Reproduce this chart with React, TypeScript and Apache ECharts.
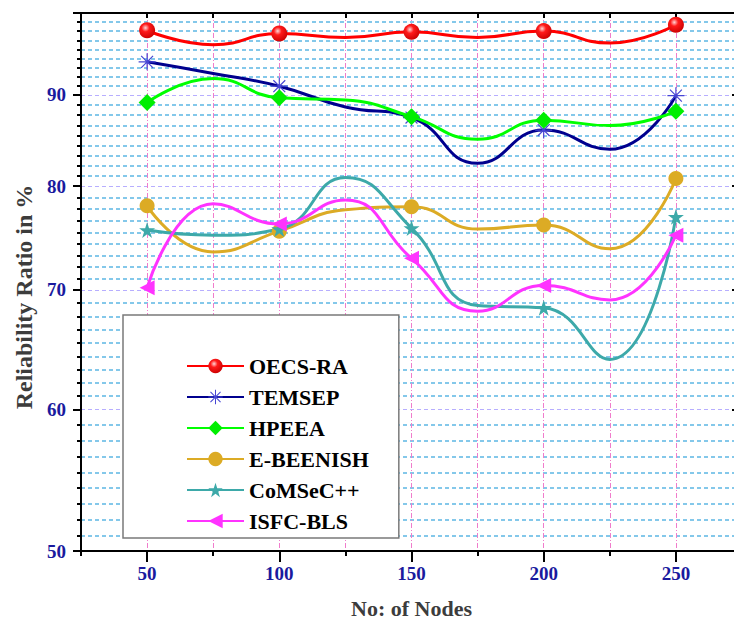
import React, { useEffect, useRef } from 'react';
import * as echarts from 'echarts';

// Number of nodes (markers drawn at every other point: 50, 100, 150, 200, 250)
const nodes = [50, 75, 100, 125, 150, 175, 200, 225, 250];

// Reliability ratio (%)
const oecsRA = [97.8, 96.0, 97.4, 96.9, 97.6, 96.9, 97.7, 96.2, 98.5];
const temsep = [93.9, 92.5, 91.0, 88.6, 87.4, 82.4, 86.0, 83.9, 89.9];
const hpeea = [89.1, 91.9, 89.65, 89.4, 87.5, 85.0, 87.1, 86.5, 88.1];
const eBeenish = [78.0, 73.5, 75.5, 77.6, 77.9, 75.7, 76.1, 73.8, 80.8];
const comsec = [75.6, 75.1, 75.7, 80.9, 75.8, 68.6, 68.4, 64.0, 76.9];
const isfcBls = [70.2, 78.2, 76.2, 78.6, 72.9, 68.1, 70.4, 69.1, 75.1];

const xLabelValues = [50, 100, 150, 200, 250];
const yLabelValues = [50, 60, 70, 80, 90];
const yMajorTicks = [50, 60, 70, 80, 90, 100];

const FONT = "'Liberation Serif', 'Times New Roman', serif";

function minorTicks(majors: number[], count: number): number[] {
  const out: number[] = [];
  for (let i = 0; i < majors.length - 1; i++) {
    const a = majors[i];
    const b = majors[i + 1];
    for (let k = 1; k <= count; k++) out.push(a * Math.pow(b / a, k / (count + 1)));
  }
  return out;
}

const ASTERISK =
  'path://M9.3 0 L10.7 0 L10.7 20 L9.3 20 Z M0 9.3 L20 9.3 L20 10.7 L0 10.7 Z M2.5 3.5 L3.5 2.5 L17.5 16.5 L16.5 17.5 Z M16.5 2.5 L17.5 3.5 L3.5 17.5 L2.5 16.5 Z';
const STAR =
  'path://M12 0 L14.9 8.6 L24 8.6 L16.6 13.9 L19.4 22.6 L12 17.3 L4.6 22.6 L7.4 13.9 L0 8.6 L9.1 8.6 Z';

function makeSeries(
  name: string,
  values: number[],
  lineColor: string,
  markColor: any,
  symbol: string,
  size: number,
  rotate = 0
) {
  return {
    type: 'line',
    name,
    xAxisIndex: 0,
    yAxisIndex: 0,
    data: nodes.map((x, i) => [x, values[i]]),
    smooth: 0.5,
    showSymbol: true,
    showAllSymbol: true,
    symbol,
    symbolRotate: rotate,
    symbolSize: (_v: any, p: any) => (p.dataIndex % 2 === 0 ? size : 0),
    lineStyle: { color: lineColor, width: 3 },
    itemStyle: { color: markColor },
    emphasis: { disabled: true },
    z: 3,
  };
}

export default function App() {
  const ref = useRef<HTMLDivElement>(null);

  useEffect(() => {
    if (!ref.current) return;
    const chart = echarts.init(ref.current, undefined, { renderer: 'svg' });

    const redBall = {
      type: 'radial',
      x: 0.4,
      y: 0.35,
      r: 0.7,
      colorStops: [
        { offset: 0, color: '#ffd6d6' },
        { offset: 0.35, color: '#ff1a1a' },
        { offset: 1, color: '#c80000' },
      ],
    };

    const option: any = {
      animation: false,
      backgroundColor: '#ffffff',
      grid: {
        left: 81,
        top: 13,
        right: -8,
        bottom: 71,
        containLabel: false,
        outerBoundsMode: 'none',
      },
      legend: {
        orient: 'vertical',
        left: 123,
        top: 315,
        padding: [40, 30, 6, 63],
        itemGap: 9,
        itemWidth: 57,
        itemHeight: 18,
        backgroundColor: '#ffffff',
        borderColor: '#7a7a7a',
        borderWidth: 1.5,
        textStyle: { fontFamily: FONT, fontSize: 22, fontWeight: 'bold', color: '#000' },
        z: 10,
      },
      xAxis: [
        {
          type: 'value',
          position: 'bottom',
          min: 25,
          max: 275,
          interval: 25,
          axisLine: { show: true, onZero: false, lineStyle: { color: '#000', width: 2 } },
          axisTick: { show: true, inside: false, length: 5, lineStyle: { color: '#000', width: 2 } },
          axisLabel: {
            customValues: xLabelValues,
            color: '#1a1a9e',
            fontFamily: FONT,
            fontSize: 19,
            fontWeight: 'bold',
            margin: 13,
          },
          splitLine: { show: true, lineStyle: { color: '#f07ccc', width: 1, type: [5, 2, 1, 2] } },
          name: 'No: of Nodes',
          nameLocation: 'middle',
          nameGap: 46,
          nameTextStyle: { fontFamily: FONT, fontSize: 22, fontWeight: 'bold', color: '#3c3c3c' },
        },
        {
          type: 'value',
          position: 'bottom',
          min: 25,
          max: 275,
          axisLine: { show: false },
          axisTick: { show: true, inside: false, length: 11, customValues: xLabelValues, lineStyle: { color: '#000', width: 2 } },
          axisLabel: { show: false },
          splitLine: { show: false },
        },
        {
          type: 'value',
          position: 'top',
          min: 25,
          max: 275,
          interval: 25,
          axisLine: { show: true, onZero: false, lineStyle: { color: '#000', width: 2 } },
          axisTick: { show: true, inside: true, length: 5, lineStyle: { color: '#000', width: 2 } },
          axisLabel: { show: false },
          splitLine: { show: false },
        },
      ],
      yAxis: [
        {
          type: 'log',
          logBase: 10,
          min: 50,
          max: 100,
          position: 'left',
          axisLine: { show: true, onZero: false, lineStyle: { color: '#000', width: 2 } },
          axisTick: { show: true, inside: false, length: 8, customValues: yMajorTicks, lineStyle: { color: '#000', width: 2 } },
          axisLabel: {
            customValues: yLabelValues,
            color: '#1a1a9e',
            fontFamily: FONT,
            fontSize: 19,
            fontWeight: 'bold',
            margin: 15,
            formatter: (v: number) => String(Math.round(v)),
          },
          splitLine: { show: true, lineStyle: { color: '#b7aeff', width: 1, type: [4, 3] } },
          name: 'Reliability Ratio in %',
          nameLocation: 'middle',
          nameGap: 45,
          nameTextStyle: {
            fontFamily: FONT,
            fontSize: 24,
            fontWeight: 'bold',
            color: '#3c3c3c',
            padding: [0, 30, 0, 0],
          },
        },
        {
          type: 'log',
          logBase: 10,
          min: 50,
          max: 100,
          position: 'left',
          axisLine: { show: false },
          axisTick: { show: true, inside: false, length: 4, customValues: minorTicks(yMajorTicks, 8), lineStyle: { color: '#000', width: 2 } },
          axisLabel: { show: false },
          splitLine: { show: true, lineStyle: { color: '#5cb6e4', width: 1.5, type: [4, 3] } },
        },
        {
          type: 'log',
          logBase: 10,
          min: 50,
          max: 100,
          position: 'right',
          axisLine: { show: true, onZero: false, lineStyle: { color: '#000', width: 2 } },
          axisTick: { show: true, inside: true, length: 10, customValues: yMajorTicks, lineStyle: { color: '#000', width: 2 } },
          axisLabel: { show: false },
          splitLine: { show: false },
        },
      ],
      series: [
        makeSeries('OECS-RA', oecsRA, '#ff0000', redBall, 'circle', 16),
        makeSeries('TEMSEP', temsep, '#00008e', '#4646d4', ASTERISK, 17),
        makeSeries('HPEEA', hpeea, '#00ff00', '#00ee00', 'diamond', 17),
        makeSeries('E-BEENISH', eBeenish, '#dcab25', '#dcab25', 'circle', 15),
        makeSeries('CoMSeC++', comsec, '#3da9a9', '#3da9a9', STAR, 16),
        makeSeries('ISFC-BLS', isfcBls, '#ff33ff', '#ff33ff', 'triangle', 15, 90),
      ],
    };

    chart.setOption(option);
    return () => chart.dispose();
  }, []);

  return (
    <div
      ref={ref}
      style={{ position: 'absolute', left: 0, top: 0, width: 734, height: 622, background: '#fff' }}
    />
  );
}
